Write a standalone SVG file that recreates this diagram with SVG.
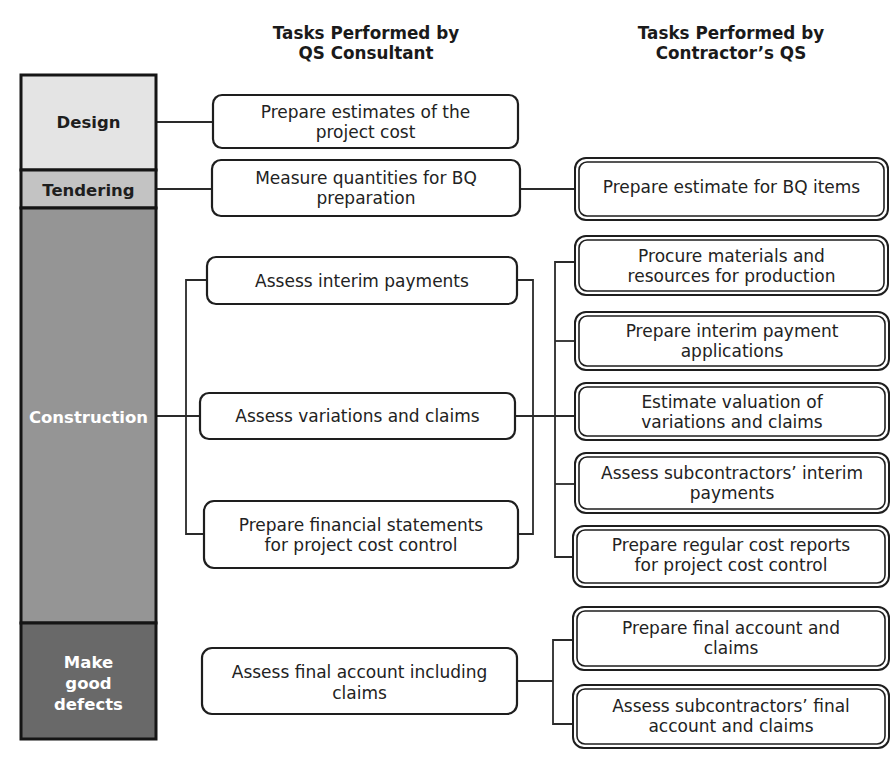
<svg xmlns="http://www.w3.org/2000/svg" width="892" height="760" viewBox="0 0 892 760">
  <style>
    .hdr { font-family: "DejaVu Sans", Verdana, sans-serif; font-weight: bold; font-size: 16.8px; fill: #1a1a1a; text-anchor: middle; }
    .phase { font-family: "DejaVu Sans", Verdana, sans-serif; font-weight: bold; font-size: 16.5px; text-anchor: middle; }
    .dark { fill: #1e1e1e; }
    .light { fill: #ffffff; }
    .cell { stroke: #151515; stroke-width: 3; }
    .box { fill: #ffffff; stroke: #1e1e1e; stroke-width: 2.2; }
    .dbl-out { fill: #ffffff; stroke: #1e1e1e; stroke-width: 2; }
    .dbl-in { fill: none; stroke: #1e1e1e; stroke-width: 1.6; }
    .lbl { font-family: "DejaVu Sans", Verdana, sans-serif; font-size: 17px; fill: #222222; text-anchor: middle; }
    .wire { fill: none; stroke: #2a2a2a; stroke-width: 1.8; }
  </style>

  <rect width="892" height="760" fill="#ffffff"/>

  <!-- column headers -->
  <g id="header-consultant">
    <text class="hdr" x="366" y="39">Tasks Performed by</text>
    <text class="hdr" x="366" y="59">QS Consultant</text>
  </g>
  <g id="header-contractor">
    <text class="hdr" x="731" y="39">Tasks Performed by</text>
    <text class="hdr" x="731" y="59">Contractor’s QS</text>
  </g>

  <!-- connectors -->
  <g id="connectors">
    <path class="wire" d="M157 122 H213"/>
    <path class="wire" d="M157 189 H212"/>
    <path class="wire" d="M520 189 H575"/>
    <path class="wire" d="M157 416 H200"/>
    <path class="wire" d="M207 280 H186 V534 H204"/>
    <path class="wire" d="M517 280 H533 V534 H518"/>
    <path class="wire" d="M515 416 H575"/>
    <path class="wire" d="M575 262 H555 V557 H573"/>
    <path class="wire" d="M555 341 H575"/>
    <path class="wire" d="M555 484 H575"/>
    <path class="wire" d="M517 681 H553"/>
    <path class="wire" d="M573 640 H553 V724 H573"/>
  </g>

  <!-- project phases -->
  <g id="phase-design">
    <rect class="cell" x="21" y="75" width="135" height="95" fill="#e4e4e4"/>
    <text class="phase dark" x="88.5" y="128">Design</text>
  </g>
  <g id="phase-tendering">
    <rect class="cell" x="21" y="170" width="135" height="38" fill="#c3c3c3"/>
    <text class="phase dark" x="88.5" y="196">Tendering</text>
  </g>
  <g id="phase-construction">
    <rect class="cell" x="21" y="208" width="135" height="415" fill="#959595"/>
    <text class="phase light" x="88.5" y="423">Construction</text>
  </g>
  <g id="phase-make-good">
    <rect class="cell" x="21" y="623" width="135" height="116" fill="#696969"/>
    <text class="phase light" x="88.5" y="668">Make</text>
    <text class="phase light" x="88.5" y="689">good</text>
    <text class="phase light" x="88.5" y="710">defects</text>
  </g>

  <!-- QS consultant tasks -->
  <g id="qs-estimates">
    <rect class="box" x="213" y="95" width="305" height="53" rx="9"/>
    <text class="lbl" x="365.5" y="117.5">Prepare estimates of the</text>
    <text class="lbl" x="365.5" y="137.5">project cost</text>
  </g>
  <g id="qs-measure">
    <rect class="box" x="212" y="160" width="308" height="56" rx="9"/>
    <text class="lbl" x="366" y="184">Measure quantities for BQ</text>
    <text class="lbl" x="366" y="204">preparation</text>
  </g>
  <g id="qs-interim">
    <rect class="box" x="207" y="257" width="310" height="47" rx="9"/>
    <text class="lbl" x="362" y="286.5">Assess interim payments</text>
  </g>
  <g id="qs-variations">
    <rect class="box" x="200" y="393" width="315" height="46" rx="9"/>
    <text class="lbl" x="357.5" y="422">Assess variations and claims</text>
  </g>
  <g id="qs-financial">
    <rect class="box" x="204" y="501" width="314" height="67" rx="10"/>
    <text class="lbl" x="361" y="531">Prepare financial statements</text>
    <text class="lbl" x="361" y="551">for project cost control</text>
  </g>
  <g id="qs-final-account">
    <rect class="box" x="202" y="648" width="315" height="66" rx="10"/>
    <text class="lbl" x="359.5" y="678">Assess final account including</text>
    <text class="lbl" x="359.5" y="699">claims</text>
  </g>

  <!-- contractor's QS tasks -->
  <g id="cqs-bq-estimate">
    <rect class="dbl-out" x="575" y="158" width="313" height="62" rx="11"/>
    <rect class="dbl-in" x="579" y="162" width="305" height="54" rx="8"/>
    <text class="lbl" x="731.5" y="193">Prepare estimate for BQ items</text>
  </g>
  <g id="cqs-procure">
    <rect class="dbl-out" x="575" y="236" width="313" height="59" rx="11"/>
    <rect class="dbl-in" x="579" y="240" width="305" height="51" rx="8"/>
    <text class="lbl" x="731.5" y="261.5">Procure materials and</text>
    <text class="lbl" x="731.5" y="281.5">resources for production</text>
  </g>
  <g id="cqs-interim-apps">
    <rect class="dbl-out" x="575" y="312" width="314" height="58" rx="11"/>
    <rect class="dbl-in" x="579" y="316" width="306" height="50" rx="8"/>
    <text class="lbl" x="732" y="337">Prepare interim payment</text>
    <text class="lbl" x="732" y="357">applications</text>
  </g>
  <g id="cqs-valuation">
    <rect class="dbl-out" x="575" y="383" width="314" height="57" rx="11"/>
    <rect class="dbl-in" x="579" y="387" width="306" height="49" rx="8"/>
    <text class="lbl" x="732" y="408">Estimate valuation of</text>
    <text class="lbl" x="732" y="428">variations and claims</text>
  </g>
  <g id="cqs-sub-interim">
    <rect class="dbl-out" x="575" y="453" width="314" height="60" rx="11"/>
    <rect class="dbl-in" x="579" y="457" width="306" height="52" rx="8"/>
    <text class="lbl" x="732" y="478.5">Assess subcontractors’ interim</text>
    <text class="lbl" x="732" y="499">payments</text>
  </g>
  <g id="cqs-cost-reports">
    <rect class="dbl-out" x="573" y="526" width="316" height="61" rx="11"/>
    <rect class="dbl-in" x="577" y="530" width="308" height="53" rx="8"/>
    <text class="lbl" x="731" y="551">Prepare regular cost reports</text>
    <text class="lbl" x="731" y="571">for project cost control</text>
  </g>
  <g id="cqs-final-account">
    <rect class="dbl-out" x="573" y="607" width="316" height="63" rx="11"/>
    <rect class="dbl-in" x="577" y="611" width="308" height="55" rx="8"/>
    <text class="lbl" x="731" y="634">Prepare final account and</text>
    <text class="lbl" x="731" y="654">claims</text>
  </g>
  <g id="cqs-sub-final">
    <rect class="dbl-out" x="573" y="685" width="316" height="63" rx="11"/>
    <rect class="dbl-in" x="577" y="689" width="308" height="55" rx="8"/>
    <text class="lbl" x="731" y="712">Assess subcontractors’ final</text>
    <text class="lbl" x="731" y="732">account and claims</text>
  </g>
</svg>
